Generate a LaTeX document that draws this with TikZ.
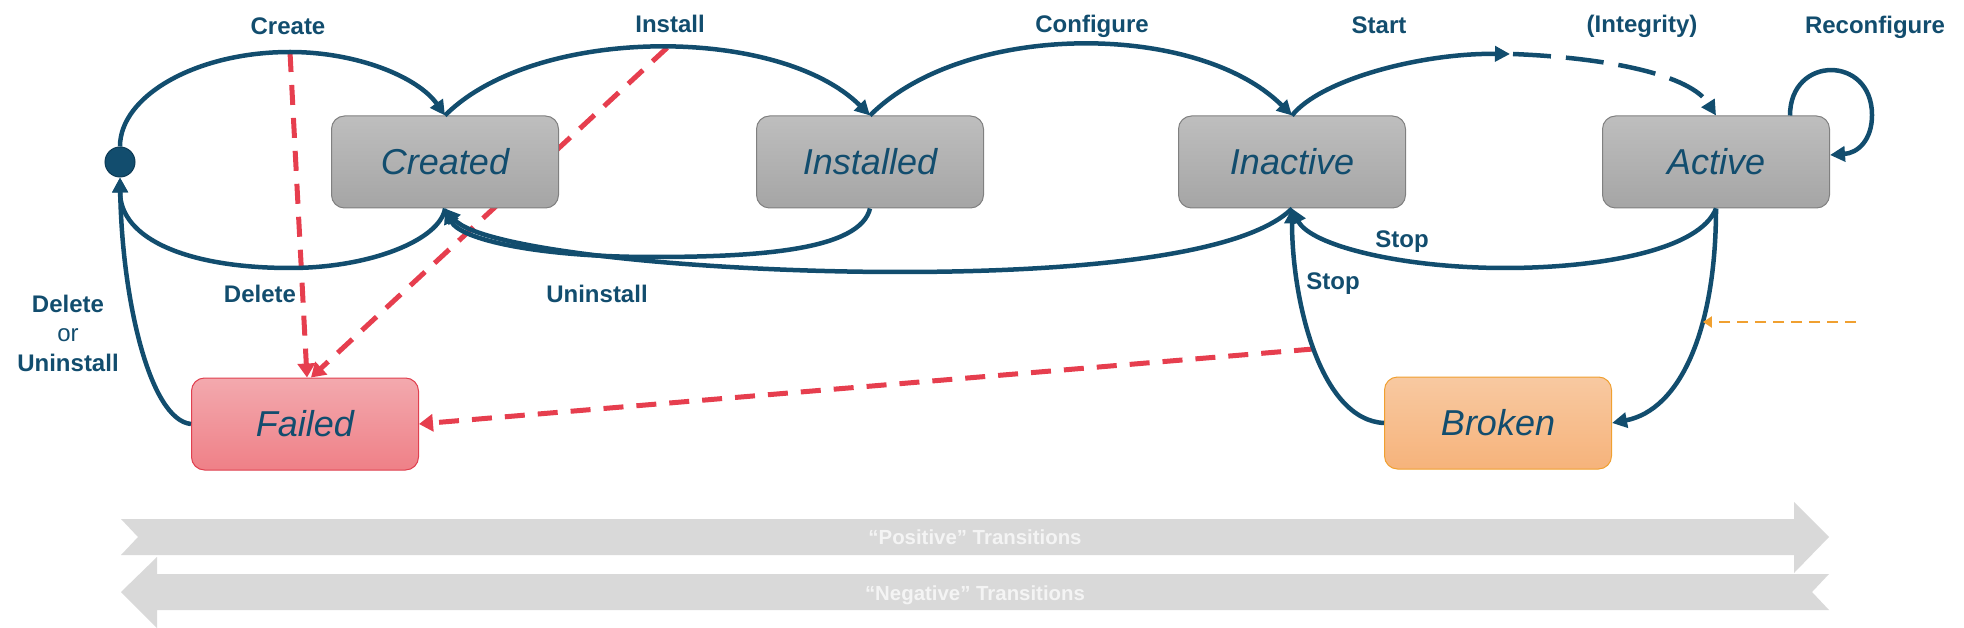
\documentclass[tikz,border=0pt]{standalone}
\usepackage{fontspec}
\setmainfont{Liberation Sans}
\usetikzlibrary{arrows.meta,calc,backgrounds}
\definecolor{navy}{HTML}{124D6E}
\definecolor{navydark}{HTML}{0C3A55}
\definecolor{boxline}{HTML}{808080}
\definecolor{grayTop}{HTML}{BEBEBE}
\definecolor{grayBot}{HTML}{A5A5A5}
\definecolor{pinkTop}{HTML}{F3A9AE}
\definecolor{pinkBot}{HTML}{EF8087}
\definecolor{redline}{HTML}{E0404F}
\definecolor{orTop}{HTML}{F8C9A1}
\definecolor{orBot}{HTML}{F6B37B}
\definecolor{orangeline}{HTML}{F0A030}
\definecolor{redc}{HTML}{E63E4E}
\definecolor{bandc}{HTML}{D9D9D9}
\definecolor{bandtxt}{HTML}{F4F4F4}
\tikzset{
  statebox/.style={rectangle, rounded corners=13pt, minimum width=227pt, minimum height=92pt,
    draw=boxline, line width=1pt, top color=grayTop, bottom color=grayBot, text=navy,
    font=\fontsize{36}{40}\selectfont\itshape, text height=25.8pt, text depth=0pt, inner sep=0pt},
  failedbox/.style={statebox, draw=redline, top color=pinkTop, bottom color=pinkBot},
  brokenbox/.style={statebox, draw=orangeline, top color=orTop, bottom color=orBot},
  conn/.style={draw=navy, line width=4.5pt, -{Triangle[length=15pt,width=15pt]}},
  reddash/.style={draw=redc, line width=5pt, dash pattern=on 20pt off 13pt, -{Triangle[length=14pt,width=17pt]}},
  orangedash/.style={draw=orangeline, line width=2.5pt, dash pattern=on 11pt off 7pt, -{Triangle[length=9pt,width=11pt]}},
  lbl/.style={text=navy, font=\fontsize{24}{29.5}\selectfont\bfseries, inner sep=0pt, text height=17.2pt, text depth=0pt},
  bandtext/.style={text=bandtxt, font=\fontsize{20.4}{24}\selectfont\bfseries, inner sep=0pt, text height=14.6pt, text depth=0pt},
}
\begin{document}
\begin{tikzpicture}[x=1pt,y=-1pt]
\useasboundingbox (0,0) rectangle (1964,628);

% states
\node[statebox] (Created) at (445,162) {Created};
\node[statebox] (Installed) at (870,162) {Installed};
\node[statebox] (Inactive) at (1292,162) {Inactive};
\node[statebox] (Active) at (1716,162) {Active};
\node[failedbox] (Failed) at (305,424) {Failed};
\node[brokenbox] (Broken) at (1498,423) {Broken};
\node[circle, fill=navy, draw=navydark, line width=1pt, minimum size=30pt, inner sep=0pt] (S) at (120,162) {};

% main connectors
\draw[conn] (S.north) .. controls (120,96) and (196,52) .. (290,52) coordinate (ctop)
   .. controls (357,52) and (418,77) .. (Created.north);
\draw[conn] (Created.north) .. controls (535,25) and (779,25) .. coordinate[pos=0.52] (itop) (Installed.north);
\draw[conn] (Installed.north) .. controls (964,21) and (1197,21) .. (Inactive.north);
\coordinate (integ) at (1510,54);
\draw[conn] (Inactive.north) .. controls (1320,80) and (1420,53) .. (integ);
\draw[conn, dash pattern=on 38pt off 15pt] ([xshift=3pt]integ) .. controls (1610,58) and (1690,75) .. (Active.north);
\draw[conn] ([xshift=74pt]Active.north) .. controls (1790,55) and (1872,55) .. (1872,115)
   .. controls (1872,140) and (1858,153) .. ([yshift=7pt]Active.east);

\draw[conn] (Created.south) .. controls (440,240) and (370,268) .. (290,268)
   .. controls (190,268) and (120,240) .. (S.south);
\draw[conn] (Failed.west) .. controls (150,420) and (122,300) .. (S.south);

\draw[conn] (Installed.south) .. controls (860,250) and (760,257) .. (652,257)
   .. controls (540,257) and (460,240) .. (Created.south);
\draw[conn] (Inactive.south) .. controls (1240,260) and (1050,272) .. (900,272)
   .. controls (700,272) and (480,250) .. (Created.south);

\draw[conn] (Active.south) .. controls (1700,250) and (1600,268) .. (1505,268)
   .. controls (1400,268) and (1310,245) .. (Inactive.south);
\draw[conn] (Broken.west) .. controls (1320,420) and (1292,300) .. coordinate[pos=0.5] (bstop) (Inactive.south);
\draw[conn] (Active.south) .. controls (1716,330) and (1680,410) .. coordinate[pos=0.35] (ab) (Broken.east);

% failure arrows (behind boxes)
\begin{pgfonlayer}{background}
\draw[reddash] (ctop) -- ([xshift=2pt]Failed.north);
\draw[reddash] (itop) -- ([xshift=6pt]Failed.north);
\draw[reddash] (bstop) -- (Failed.east);
\end{pgfonlayer}

\coordinate (oS) at (1856,322);
\draw[orangedash] (oS) -- (oS -| ab);

% labels
\node[lbl] (lCreate) at (288,26) {Create};
\node[lbl] (lInstall) at (670,24) {Install};
\node[lbl] (lConfigure) at (1092,24) {Configure};
\node[lbl] (lStart) at (1379,25) {Start};
\node[lbl] (lIntegrity) at (1642,24) {(Integrity)};
\node[lbl] (lReconf) at (1875,25) {Reconfigure};
\node[lbl] (lDelete) at (260,294) {Delete};
\node[lbl] (lUninstall) at (597,294) {Uninstall};
\node[lbl] (lStop1) at (1402,239) {Stop};
\node[lbl] (lStop2) at (1333,281) {Stop};
\node[text=navy, font=\fontsize{24}{29.5}\selectfont, align=center, inner sep=0pt] (lDelUn) at (68,333)
  {\bfseries Delete\\ or\\ \bfseries Uninstall};

% transition bands
\fill[bandc] (121,519) -- (1794,519) -- (1794,502) -- (1829,537) -- (1794,573) -- (1794,555)
  -- (121,555) -- (138,537) -- cycle;
\fill[bandc] (1829,574) -- (157,574) -- (157,557) -- (121,592) -- (157,628) -- (157,610)
  -- (1829,610) -- (1812,592) -- cycle;
\node[bandtext] (pos) at (975,537.5) {“Positive” Transitions};
\node[bandtext] (neg) at (975,593) {“Negative” Transitions};
\end{tikzpicture}
\end{document}
